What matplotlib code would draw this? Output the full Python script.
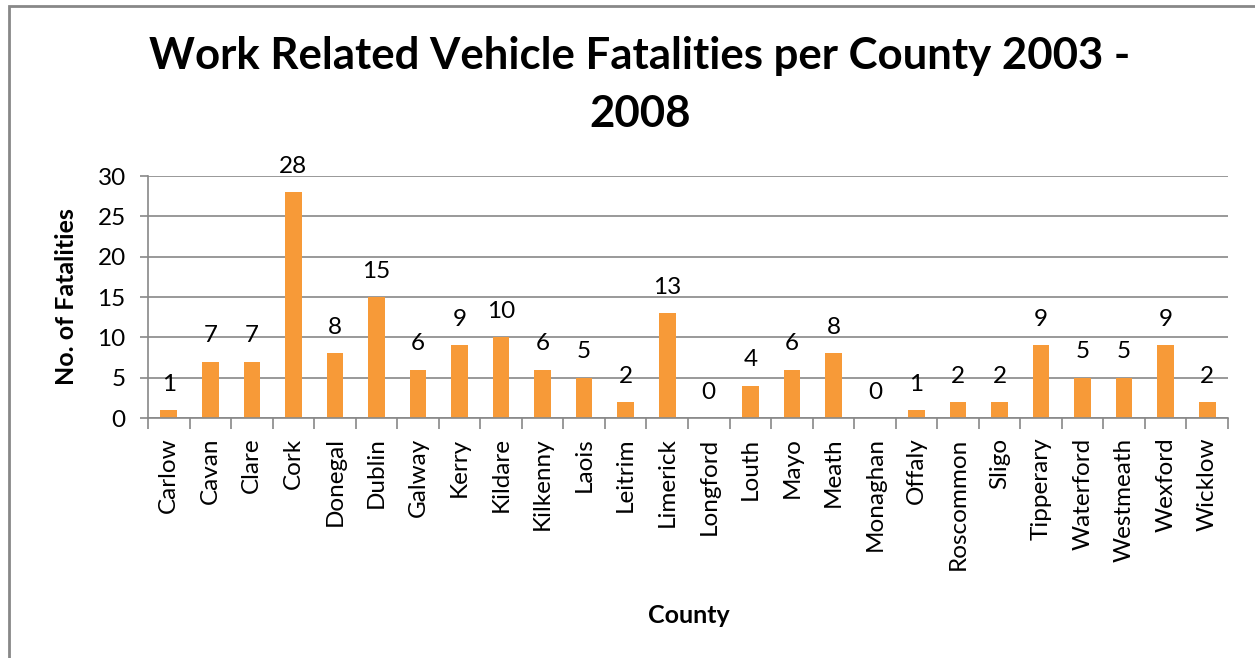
import matplotlib.pyplot as plt
import numpy as np
from matplotlib.patches import Rectangle

counties = ['Carlow', 'Cavan', 'Clare', 'Cork', 'Donegal', 'Dublin', 'Galway', 'Kerry',
            'Kildare', 'Kilkenny', 'Laois', 'Leitrim', 'Limerick', 'Longford', 'Louth',
            'Mayo', 'Meath', 'Monaghan', 'Offaly', 'Roscommon', 'Sligo', 'Tipperary',
            'Waterford', 'Westmeath', 'Wexford', 'Wicklow']
fatalities = [1, 7, 7, 28, 8, 15, 6, 9, 10, 6, 5, 2, 13, 0, 4, 6, 8, 0, 1, 2, 2, 9, 5, 5, 9, 2]
yticks = [0, 5, 10, 15, 20, 25, 30]

plt.rcParams['font.family'] = 'Lato'

fig = plt.figure(figsize=(12.55, 6.58), dpi=100)
ax = fig.add_axes([0.1179, 0.3647, 0.8606, 0.3678])

x = np.arange(len(counties))
bars = ax.bar(x, fatalities, width=0.4, color='#F79A38')
for xi, v in zip(x, fatalities):
    ax.annotate(str(v), (xi, v), xytext=(0, 11), textcoords='offset points',
                ha='center', va='bottom', fontsize=17.5, color='black')

ax.set_xlim(-0.5, len(counties) - 0.5)
ax.set_ylim(0, 30)
ax.set_yticks(yticks)
ax.set_xticks(x)
ax.set_xticklabels(counties, rotation=90, fontsize=17.5)
ax.tick_params(axis='x', length=0, pad=14)
ax.set_xticks(np.arange(-0.5, len(counties)), minor=True)
ax.tick_params(axis='x', which='minor', length=8, color='#888888', width=1.2)
ax.tick_params(axis='y', labelsize=17.5, length=6, color='#888888', width=1.2, pad=10)
ax.yaxis.grid(True, color='#888888', linewidth=1.2)
ax.set_axisbelow(True)
for s in ['top', 'right']:
    ax.spines[s].set_visible(False)
ax.spines['left'].set_color('#888888')
ax.spines['bottom'].set_color('#888888')
ax.spines['left'].set_linewidth(1.2)
ax.spines['bottom'].set_linewidth(1.2)

ax.set_ylabel('No. of Fatalities', fontsize=18, fontweight='bold', labelpad=14)
fig.text(0.5490, 0.065, 'County', ha='center', va='center', fontsize=18, fontweight='bold')

fig.text(0.5100, 0.871, 'Work Related Vehicle Fatalities per County 2003 -\n2008',
         ha='center', va='center', fontsize=31.5, fontweight='bold', linespacing=1.55)

fig.patches.append(Rectangle((9 / 1255, -0.05), 1.1, 1 - 6 / 658 + 0.05, transform=fig.transFigure,
                             fill=False, edgecolor='#888888', linewidth=2))

fig.savefig('out.png', dpi=100)
